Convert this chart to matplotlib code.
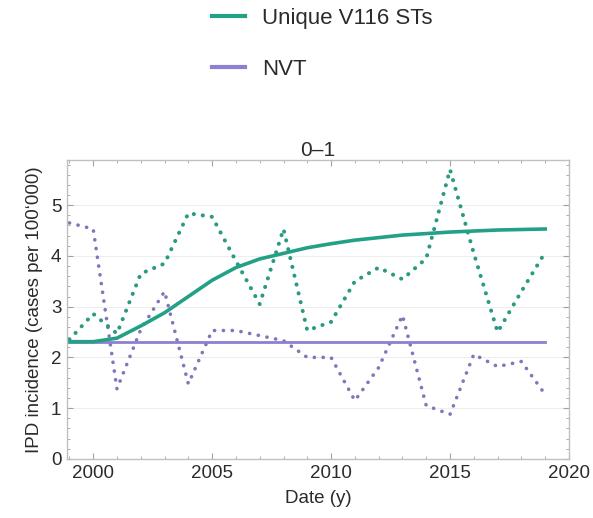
import numpy as np
import matplotlib.pyplot as plt
from matplotlib.lines import Line2D
from matplotlib.ticker import MultipleLocator

plt.rcParams['font.family'] = ['Liberation Sans', 'DejaVu Sans']

# --- data (age group 0-1) ---
years = np.arange(1999, 2020)

# observed incidence (dotted)
v116_obs = [2.35, 2.86, 2.47, 3.65, 3.85, 4.84, 4.77, 3.90, 3.05, 4.53, 2.53,
            2.70, 3.50, 3.77, 3.54, 3.95, 5.70, 4.05, 2.50, 3.30, 4.07]
nvt_obs = [4.65, 4.53, 1.38, 2.55, 3.30, 1.48, 2.53, 2.53, 2.43, 2.33, 2.00,
           2.00, 1.15, 1.80, 2.83, 1.05, 0.88, 2.06, 1.82, 1.92, 1.27]

# model fit (solid)
v116_fit = [2.31, 2.31, 2.38, 2.62, 2.88, 3.20, 3.52, 3.77, 3.94, 4.05, 4.16,
            4.24, 4.31, 4.36, 4.41, 4.44, 4.47, 4.49, 4.51, 4.52, 4.53]
nvt_fit = [2.31] * len(years)

labels = ['Unique V116 STs', 'NVT']
green = '#23a187'
purple = '#8d80d2'
green_dot = '#2a9a82'
purple_dot = '#7f76bc'

fig = plt.figure(figsize=(5.93, 5.18), dpi=100)
ax = fig.add_axes([0.113, 0.114, 0.8465, 0.5772])

# dotted observations: round dots
ax.plot(years, nvt_obs, color=purple_dot, lw=2.6, linestyle=(0, (0.05, 2.4)),
        dash_capstyle='round')
ax.plot(years, v116_obs, color=green_dot, lw=2.9, linestyle=(0, (0.05, 2.2)),
        dash_capstyle='round')
ax.plot(years, nvt_fit, color=purple, lw=2.0)
ax.plot(years, v116_fit, color=green, lw=2.6)

ax.set_xlim(1998.9, 2020.0)
ax.set_ylim(0, 5.89)
ax.xaxis.set_major_locator(MultipleLocator(5))
ax.xaxis.set_minor_locator(MultipleLocator(1))
ax.yaxis.set_major_locator(MultipleLocator(1))
ax.yaxis.set_minor_locator(MultipleLocator(0.2))
ax.tick_params(which='both', direction='in', top=True, right=True,
               color='#a0a0a0', labelcolor='#2b2b2b', labelsize=13.5)
ax.tick_params(which='major', length=4, width=0.8, pad=4)
ax.tick_params(which='minor', length=2, width=0.6)
ax.grid(axis='y', color='#eeeeee', lw=0.8)
ax.set_axisbelow(True)
for sp in ax.spines.values():
    sp.set_color('#c0c0c0')
    sp.set_linewidth(1.0)

ax.set_title('0\u20131', fontsize=15, color='#2b2b2b', pad=3)
ax.set_xlabel('Date (y)', fontsize=13.5, color='#2b2b2b', labelpad=6)
ax.set_ylabel('IPD incidence (cases per 100\u2018000)', fontsize=13.5,
              color='#2b2b2b', labelpad=6)

handles = [Line2D([], [], color=green, lw=3.0),
           Line2D([], [], color=purple, lw=3.0)]
fig.legend(handles, labels, loc='upper left', bbox_to_anchor=(0.357, 0.985),
           frameon=False, fontsize=16, handlelength=1.5, handletextpad=0.75,
           labelspacing=1.35, borderpad=0, borderaxespad=0,
           labelcolor='#2b2b2b')

fig.savefig('out.png', dpi=100)
